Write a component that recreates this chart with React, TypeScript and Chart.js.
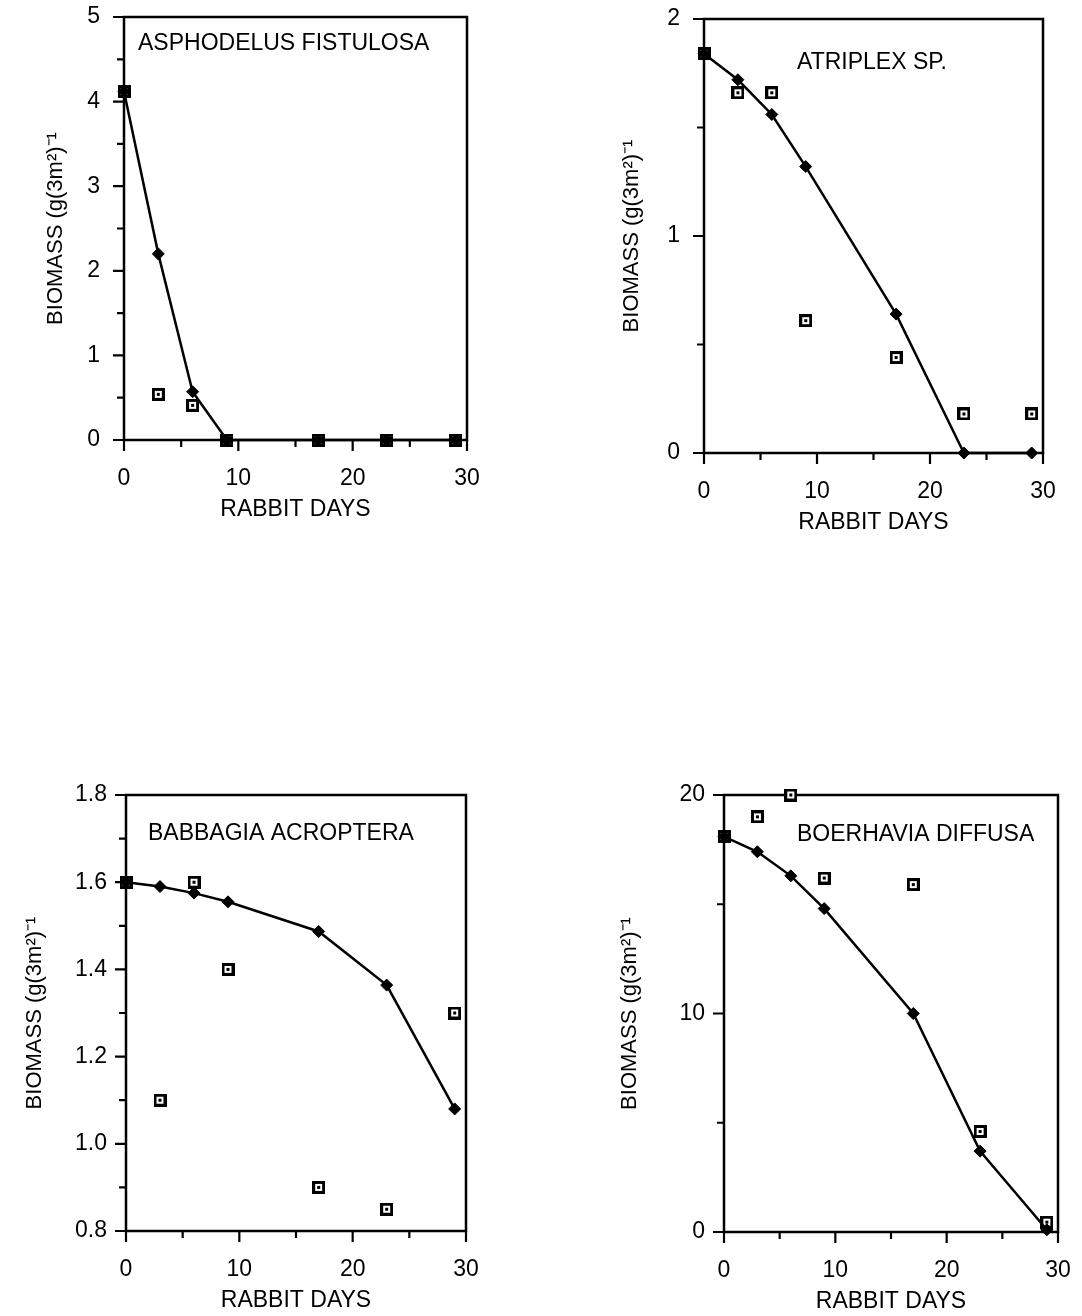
import React, { useEffect, useRef } from 'react';
import { Chart, registerables } from 'chart.js';

Chart.register(...registerables);

// ---------- data ----------
const DAYS = [0, 3, 6, 9, 17, 23, 29];

const ASPHODELUS_FITTED = [4.12, 2.2, 0.57, 0, 0, 0, 0];
const ASPHODELUS_OBSERVED = [4.12, 0.54, 0.41, 0, 0, 0, 0];

const ATRIPLEX_FITTED = [1.84, 1.72, 1.56, 1.32, 0.64, 0, 0];
const ATRIPLEX_OBSERVED = [1.84, 1.66, 1.66, 0.61, 0.44, 0.18, 0.18];

const BABBAGIA_FITTED = [1.6, 1.59, 1.575, 1.555, 1.487, 1.364, 1.08];
const BABBAGIA_OBSERVED = [1.6, 1.1, 1.6, 1.4, 0.9, 0.85, 1.3];

const BOERHAVIA_FITTED = [18.1, 17.4, 16.3, 14.8, 10.0, 3.7, 0.1];
const BOERHAVIA_OBSERVED = [18.1, 19.0, 20.0, 16.2, 15.9, 4.6, 0.45];

const X_TICKS = [0, 10, 20, 30];
const Y_TICKS_ASPHODELUS = [0, 1, 2, 3, 4, 5];
const Y_TICKS_ATRIPLEX = [0, 1, 2];
const Y_TICKS_BABBAGIA = [0.8, 1.0, 1.2, 1.4, 1.6, 1.8];
const Y_TICKS_BOERHAVIA = [0, 10, 20];

const X_TITLE = 'RABBIT DAYS';
const Y_TITLE = 'BIOMASS (g(3m²)⁻¹';

const FONT = '"Liberation Sans", Arial, Helvetica, sans-serif';

type PanelCfg = {
  title: string;
  fitted: number[];
  observed: number[];
  yTicks: number[];
  yMinor: number;
  xMinor: number;
  decimals: number;
  canvas: { left: number; top: number; width: number; height: number };
  area: { left: number; right: number; top: number; bottom: number };
  yTitleX: number;
  yLabelPad: number;
  titlePos: { x: number; y: number };
};

const PANELS: PanelCfg[] = [
  {
    title: 'ASPHODELUS FISTULOSA',
    fitted: ASPHODELUS_FITTED,
    observed: ASPHODELUS_OBSERVED,
    yTicks: Y_TICKS_ASPHODELUS,
    yMinor: 0.5,
    xMinor: 5,
    decimals: 0,
    canvas: { left: 0, top: 0, width: 540, height: 530 },
    area: { left: 124, right: 467, top: 17, bottom: 440 },
    yTitleX: 56,
    yLabelPad: 24,
    titlePos: { x: 138, y: 50 },
  },
  {
    title: 'ATRIPLEX SP.',
    fitted: ATRIPLEX_FITTED,
    observed: ATRIPLEX_OBSERVED,
    yTicks: Y_TICKS_ATRIPLEX,
    yMinor: 0.5,
    xMinor: 5,
    decimals: 0,
    canvas: { left: 560, top: 0, width: 522, height: 543 },
    area: { left: 704, right: 1043, top: 19, bottom: 453 },
    yTitleX: 632,
    yLabelPad: 24,
    titlePos: { x: 797, y: 69 },
  },
  {
    title: 'BABBAGIA ACROPTERA',
    fitted: BABBAGIA_FITTED,
    observed: BABBAGIA_OBSERVED,
    yTicks: Y_TICKS_BABBAGIA,
    yMinor: 0.1,
    xMinor: 5,
    decimals: 1,
    canvas: { left: 0, top: 775, width: 540, height: 546 },
    area: { left: 126, right: 466, top: 795, bottom: 1231 },
    yTitleX: 35,
    yLabelPad: 19,
    titlePos: { x: 148, y: 840 },
  },
  {
    title: 'BOERHAVIA DIFFUSA',
    fitted: BOERHAVIA_FITTED,
    observed: BOERHAVIA_OBSERVED,
    yTicks: Y_TICKS_BOERHAVIA,
    yMinor: 5,
    xMinor: 5,
    decimals: 0,
    canvas: { left: 560, top: 775, width: 522, height: 547 },
    area: { left: 724, right: 1058, top: 795, bottom: 1232 },
    yTitleX: 630,
    yLabelPad: 19,
    titlePos: { x: 797, y: 841 },
  },
];

function makeMarker(): HTMLCanvasElement {
  const m = document.createElement('canvas');
  m.width = 13;
  m.height = 13;
  const c = m.getContext('2d')!;
  c.fillStyle = '#000';
  c.fillRect(0, 0, 13, 13);
  c.fillStyle = '#fff';
  c.fillRect(3, 3, 7, 7);
  c.fillStyle = '#000';
  c.fillRect(5, 5, 3, 3);
  return m;
}

function Panel({ cfg }: { cfg: PanelCfg }) {
  const ref = useRef<HTMLCanvasElement>(null);

  useEffect(() => {
    const canvas = ref.current!;
    const { canvas: box, area } = cfg;
    const marker = makeMarker();
    const xMin = X_TICKS[0];
    const xMax = X_TICKS[X_TICKS.length - 1];
    const yMin = cfg.yTicks[0];
    const yMax = cfg.yTicks[cfg.yTicks.length - 1];
    const yMajor = cfg.yTicks[1] - cfg.yTicks[0];
    const xMajor = X_TICKS[1] - X_TICKS[0];

    const framePlugin = {
      id: 'frame' + cfg.title.replace(/\W/g, ''),
      beforeDatasetsDraw(chart: any) {
        const { ctx, chartArea: a, scales } = chart;
        ctx.save();
        ctx.strokeStyle = '#000';
        ctx.lineWidth = 2.5;
        ctx.strokeRect(a.left, a.top, a.right - a.left, a.bottom - a.top);
        ctx.lineWidth = 2.2;
        ctx.beginPath();
        const ny = Math.round((yMax - yMin) / cfg.yMinor);
        const yRatio = Math.round(yMajor / cfg.yMinor);
        for (let i = 0; i <= ny; i++) {
          const v = yMin + i * cfg.yMinor;
          const py = scales.y.getPixelForValue(v);
          const len = i % yRatio === 0 ? 11 : 7;
          ctx.moveTo(a.left, py);
          ctx.lineTo(a.left - len, py);
        }
        const nx = Math.round((xMax - xMin) / cfg.xMinor);
        const xRatio = Math.round(xMajor / cfg.xMinor);
        for (let i = 0; i <= nx; i++) {
          const v = xMin + i * cfg.xMinor;
          const px = scales.x.getPixelForValue(v);
          const len = i % xRatio === 0 ? 11 : 7;
          ctx.moveTo(px, a.bottom);
          ctx.lineTo(px, a.bottom + len);
        }
        ctx.stroke();
        ctx.fillStyle = '#000';
        ctx.font = '23px ' + FONT;
        ctx.textAlign = 'left';
        ctx.textBaseline = 'alphabetic';
        ctx.fillText(cfg.title, cfg.titlePos.x - box.left, cfg.titlePos.y - box.top);
        ctx.restore();
      },
    };

    const fittedPts = DAYS.map((d, i) => ({ x: d, y: cfg.fitted[i] }));
    const observedPts = DAYS.map((d, i) => ({ x: d, y: cfg.observed[i] }));

    const chart = new Chart(canvas, {
      type: 'scatter',
      data: {
        datasets: [
          {
            label: 'fitted',
            data: fittedPts,
            showLine: true,
            borderColor: '#000',
            borderWidth: 2.5,
            backgroundColor: '#000',
            pointStyle: 'rectRot',
            pointRadius: 6,
            pointBorderWidth: 1,
            pointBackgroundColor: '#000',
            pointBorderColor: '#000',
            tension: 0,
            clip: false,
          } as any,
          {
            label: 'observed',
            data: observedPts,
            showLine: false,
            pointStyle: marker,
            pointRadius: 6,
            clip: false,
          } as any,
        ],
      },
      options: {
        responsive: false,
        devicePixelRatio: 1,
        animation: false,
        events: [],
        layout: {
          padding: {
            left: 0,
            top: area.top - box.top,
            right: box.left + box.width - area.right,
            bottom: 0,
          },
        },
        plugins: {
          legend: { display: false },
          tooltip: { enabled: false },
          title: { display: false },
        },
        scales: {
          x: {
            type: 'linear',
            min: xMin,
            max: xMax,
            afterBuildTicks: (s: any) => {
              s.ticks = X_TICKS.map((v) => ({ value: v }));
            },
            afterFit: (s: any) => {
              s.height = box.top + box.height - area.bottom;
            },
            ticks: {
              color: '#000',
              font: { family: FONT, size: 23 },
              padding: 0,
              maxRotation: 0,
              autoSkip: false,
              callback: (v: any) => String(v),
            },
            grid: {
              display: true,
              drawOnChartArea: false,
              drawTicks: true,
              tickLength: 25,
              tickColor: 'rgba(0,0,0,0)',
            },
            border: { display: false },
            title: {
              display: true,
              text: X_TITLE,
              color: '#000',
              font: { family: FONT, size: 23 },
              padding: { top: 0, bottom: 7 },
            },
          },
          y: {
            type: 'linear',
            min: yMin,
            max: yMax,
            afterBuildTicks: (s: any) => {
              s.ticks = cfg.yTicks.map((v) => ({ value: v }));
            },
            afterFit: (s: any) => {
              s.width = area.left - box.left;
            },
            ticks: {
              color: '#000',
              font: { family: FONT, size: 23 },
              padding: 0,
              autoSkip: false,
              callback: (v: any) => Number(v).toFixed(cfg.decimals),
            },
            grid: {
              display: true,
              drawOnChartArea: false,
              drawTicks: true,
              tickLength: cfg.yLabelPad,
              tickColor: 'rgba(0,0,0,0)',
            },
            border: { display: false },
            title: {
              display: true,
              text: Y_TITLE,
              color: '#000',
              font: { family: FONT, size: 22 },
              padding: { top: cfg.yTitleX - box.left - 13.2, bottom: 0 },
            },
          },
        },
      },
      plugins: [framePlugin],
    });
    return () => chart.destroy();
  }, [cfg]);

  return (
    <canvas
      ref={ref}
      width={cfg.canvas.width}
      height={cfg.canvas.height}
      style={{
        position: 'absolute',
        left: cfg.canvas.left,
        top: cfg.canvas.top,
        width: cfg.canvas.width,
        height: cfg.canvas.height,
      }}
    />
  );
}

export default function App() {
  return (
    <div
      style={{
        position: 'absolute',
        left: 0,
        top: 0,
        width: 1082,
        height: 1316,
        overflow: 'hidden',
        background: '#fff',
      }}
    >
      {PANELS.map((p) => (
        <Panel key={p.title} cfg={p} />
      ))}
    </div>
  );
}
